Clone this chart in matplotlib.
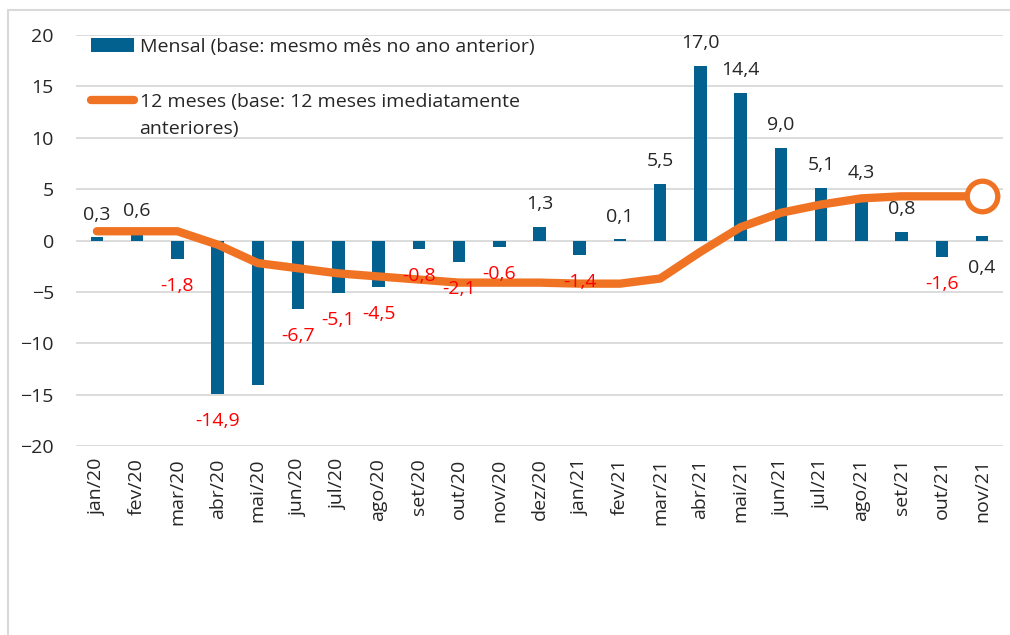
import matplotlib
matplotlib.use("Agg")
import matplotlib.pyplot as plt
from matplotlib.patches import Rectangle
import numpy as np

# ── data ──────────────────────────────────────────────────────────────────────
meses = ["jan/20", "fev/20", "mar/20", "abr/20", "mai/20", "jun/20", "jul/20",
         "ago/20", "set/20", "out/20", "nov/20", "dez/20", "jan/21", "fev/21",
         "mar/21", "abr/21", "mai/21", "jun/21", "jul/21", "ago/21", "set/21",
         "out/21", "nov/21"]
mensal = [0.3, 0.6, -1.8, -14.9, -14.1, -6.7, -5.1, -4.5, -0.8, -2.1, -0.6, 1.3,
          -1.4, 0.1, 5.5, 17.0, 14.4, 9.0, 5.1, 4.3, 0.8, -1.6, 0.4]
doze_meses = [0.9, 0.9, 0.9, -0.4, -2.2, -2.7, -3.2, -3.5, -3.8, -4.1, -4.1, -4.1,
              -4.2, -4.2, -3.7, -1.1, 1.3, 2.7, 3.5, 4.1, 4.3, 4.3, 4.3]
# rótulos exibidos (mai/20 sem rótulo no original)
rotulos = ["0,3", "0,6", "-1,8", "-14,9", "", "-6,7", "-5,1", "-4,5", "-0,8",
           "-2,1", "-0,6", "1,3", "-1,4", "0,1", "5,5", "17,0", "14,4", "9,0",
           "5,1", "4,3", "0,8", "-1,6", "0,4"]

AZUL = "#02618F"
LARANJA = "#F07324"
GRADE = "#D9D9D9"
TEXTO = "#262626"
FS = 14

plt.rcParams["font.family"] = ["Open Sans", "DejaVu Sans"]

fig = plt.figure(figsize=(10.1, 6.35), dpi=100)
ax = fig.add_axes([76 / 1010, 1 - 446 / 635, (1003 - 76) / 1010, (446 - 35) / 635])

x = np.arange(len(meses))
barras = ax.bar(x, mensal, width=0.31, color=AZUL, zorder=2,
                label="Mensal (base: mesmo mês no ano anterior)")
linha, = ax.plot(x, doze_meses, color=LARANJA, linewidth=6, solid_capstyle="round",
                 solid_joinstyle="round", zorder=3,
                 label="12 meses (base: 12 meses imediatamente")
ax.plot(x[-1], doze_meses[-1], "o", markersize=22, markerfacecolor="white",
        markeredgecolor=LARANJA, markeredgewidth=3.8, zorder=4)

# rótulos de dados
for i, (val, txt) in enumerate(zip(mensal, rotulos)):
    if not txt:
        continue
    below = val < 0 or i == len(meses) - 1
    base = min(val, 0) if below else val
    ax.annotate(txt, (x[i], base), xytext=(0, -19.5 if below else 16.5),
                textcoords="offset points", ha="center", va="center",
                fontsize=FS, color="#FF0000" if val < 0 else TEXTO, zorder=5)

# ── eixos ────────────────────────────────────────────────────────────────────
ax.set_ylim(-20, 20)
ax.set_xlim(-0.52, len(meses) - 0.48)
ax.set_yticks(range(-20, 21, 5))
ax.set_xticks(x)
ax.set_xticklabels(meses, rotation=90)
ax.tick_params(axis="both", length=0, labelsize=FS, colors=TEXTO)
ax.tick_params(axis="y", pad=16)
ax.tick_params(axis="x", pad=9)
ax.grid(axis="y", color=GRADE, linewidth=1.3, zorder=0)
ax.set_axisbelow(True)
for s in ax.spines.values():
    s.set_visible(False)

# legenda
ax.legend(handles=[barras, linha], loc="upper left",
          bbox_to_anchor=(15 / 927, 1 - 3 / 411), frameon=False, fontsize=FS,
          handlelength=2.2, handletextpad=0.3, labelspacing=1.9,
          borderpad=0, borderaxespad=0, labelcolor=TEXTO)
ax.text(63 / 927, 1 - 94 / 411, "anteriores)", transform=ax.transAxes,
        ha="left", va="center", fontsize=FS, color=TEXTO)

# moldura externa
fig.patches.append(Rectangle((8 / 1010, -0.1), 1.2, 1 - 10 / 635 + 0.1,
                             transform=fig.transFigure, fill=False,
                             edgecolor=GRADE, linewidth=1.5))

plt.savefig("out.png", dpi=100)
